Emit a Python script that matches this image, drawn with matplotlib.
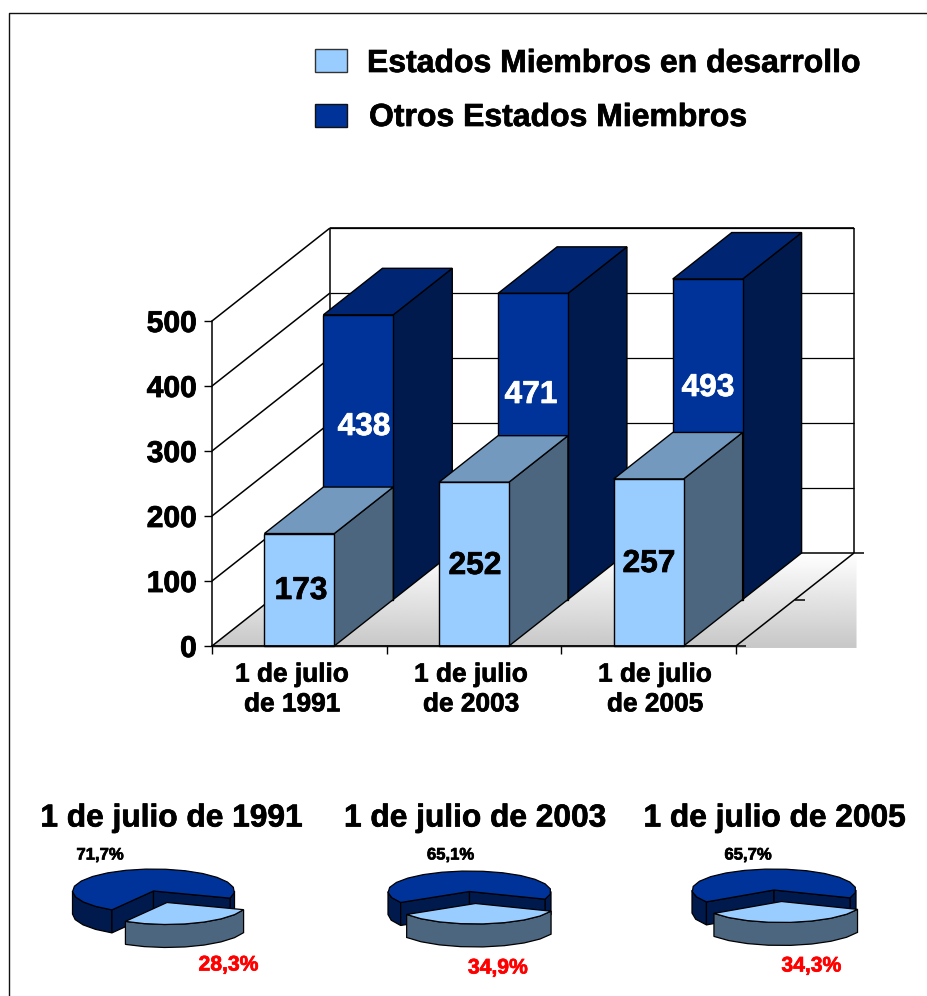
import numpy as np
import matplotlib
matplotlib.use('Agg')
import matplotlib.pyplot as plt
import matplotlib.patheffects as pe
from matplotlib.patches import Polygon, Rectangle

plt.rcParams['font.family'] = ['Liberation Sans', 'DejaVu Sans']
plt.rcParams['font.weight'] = 'bold'

# data
fechas = ['1 de julio\nde 1991', '1 de julio\nde 2003', '1 de julio\nde 2005']
fechas_pie = ['1 de julio de 1991', '1 de julio de 2003', '1 de julio de 2005']
en_desarrollo = [173, 252, 257]
otros = [438, 471, 493]
pct_desarrollo = [28.3, 34.9, 34.3]
pct_otros = [71.7, 65.1, 65.7]
ticks_y = [0, 100, 200, 300, 400, 500]

# colours
claro = '#99CCFF'
claro_lado = '#4D6680'
claro_top = '#7399BF'
oscuro = '#003399'
oscuro_lado = '#001A4D'
oscuro_top = '#002673'

W, H = 927, 996
fig = plt.figure(figsize=(W / 100, H / 100), dpi=100)

# chart axes: x in categories, y in values, box placed in pixels
x0, x1, y0, y1 = 212, 736, 646, 321
ax = fig.add_axes([x0 / W, 1 - y0 / H, (x1 - x0) / W, (y0 - y1) / H])
ax.set_xlim(0, 3)
ax.set_ylim(0, 500)
ax.patch.set_alpha(0)

# depth: d=1 is the back wall
DX = 118 / ((x1 - x0) / 3)
DY = 93 / ((y0 - y1) / 500)


def pr(x, v, d=0):
    return (x + d * DX, v + d * DY)


# floor, the gradient runs past the axes box on the right and below
grad = np.linspace(1, 0.78, 100).reshape(-1, 1)
fx = 3.69
img = ax.imshow(grad, extent=(0, fx, -3, DY), cmap='gray', vmin=0, vmax=1,
                aspect='auto', zorder=0)
floor = Polygon([pr(0, 0), pr(0, 0, 1), (fx, DY), (fx, -3), (0, -3)], closed=True,
                transform=ax.transData, fill=False, edgecolor='none')
ax.add_patch(floor)
floor.set_clip_on(False)
img.set_clip_box(fig.bbox)
img.set_clip_path(floor)
ax.set_xlim(0, 3)
ax.set_ylim(0, 500)


def line(p, q, lw=1.1, z=1):
    ax.plot([p[0], q[0]], [p[1], q[1]], color='black', lw=lw, zorder=z,
            clip_on=False, solid_capstyle='butt')


# walls and grid
for v in ticks_y[1:]:
    line(pr(0, v), pr(0, v, 1))
    line(pr(0, v, 1), pr(3, v, 1), lw=0.9)
line(pr(0, 0), pr(0, 0, 1))
line(pr(0, 0, 1), pr(0, 500, 1))
line(pr(3, 0, 1), pr(3, 500, 1))
line(pr(0, 0, 1), pr(3, 0, 1))
line(pr(0, 500, 1), pr(3, 500, 1), lw=1.2)
line(pr(3, 0), pr(3, 0, 1))
line(pr(3, 0, 1), pr(3.06, 0, 1))
line(pr(3, 0), pr(3.06, 0))
line(pr(3, 0, 0.5), pr(3.06, 0, 0.5))


def bar(i, v, d0, d1, front, side, top, z):
    a, b = i + 0.3, i + 0.7
    ax.add_patch(Polygon([pr(b, 0, d0), pr(b, 0, d1), pr(b, v, d1), pr(b, v, d0)],
                         facecolor=side, edgecolor='black', lw=1, zorder=z, clip_on=False))
    ax.add_patch(Polygon([pr(a, v, d0), pr(b, v, d0), pr(b, v, d1), pr(a, v, d1)],
                         facecolor=top, edgecolor='black', lw=1, zorder=z, clip_on=False))
    ax.add_patch(Polygon([pr(a, 0, d0), pr(b, 0, d0), pr(b, v, d0), pr(a, v, d0)],
                         facecolor=front, edgecolor='black', lw=1, zorder=z, clip_on=False))


for i in range(3):
    bar(i, otros[i], 0.5, 1, oscuro, oscuro_lado, oscuro_top, 3 + i * 0.1)
for i in range(3):
    bar(i, en_desarrollo[i], 0, 0.5, claro, claro_lado, claro_top, 5 + i * 0.1)

for s in ['top', 'right']:
    ax.spines[s].set_visible(False)
ax.spines['left'].set_zorder(2)
ax.spines['bottom'].set_zorder(6)
ax.spines['left'].set_linewidth(1.1)
ax.spines['bottom'].set_linewidth(1.3)
ax.set_xticks([0, 1, 2, 3])
ax.set_xticklabels([])
ax.set_yticks(ticks_y)
ax.set_yticklabels([str(t) for t in ticks_y], fontsize=21.6, fontweight='bold')
ax.tick_params(axis='both', length=6, width=1, pad=5)
for lab in ax.get_yticklabels():
    lab.set_path_effects([pe.withStroke(linewidth=0.6, foreground='black')])

# overlay in pixels, for the free text, legend and pies
ov = fig.add_axes([0, 0, 1, 1], zorder=10)
ov.set_xlim(0, W)
ov.set_ylim(H, 0)
ov.axis('off')


def txt(x, y, s, size, color='black', ha='center', **kw):
    t = ov.text(x, y, s, fontsize=size, color=color, ha=ha, va='center', **kw)
    t.set_path_effects([pe.withStroke(linewidth=0.5, foreground=color)])
    return t


# outer frame
ov.plot([9, 9, W], [H, 12.5, 12.5], color='#111111', lw=1)

# legend
ov.add_patch(Rectangle((315, 49), 32, 23, facecolor=claro, edgecolor='#333333', lw=1))
ov.add_patch(Rectangle((315, 104), 32, 23, facecolor=oscuro, edgecolor='#111111', lw=1))
txt(367, 64, 'Estados Miembros en desarrollo', 23, ha='left')
txt(369, 118, 'Otros Estados Miembros', 23, ha='left')

# bar labels
pos_claro = [(301, 591), (475, 566), (649, 564)]
pos_oscuro = [(364, 427), (531, 395), (708, 388)]
for v, p in zip(en_desarrollo, pos_claro):
    txt(p[0], p[1], str(v), 22.8)
for v, p in zip(otros, pos_oscuro):
    txt(p[0], p[1], str(v), 22.8, color='white')

# x labels
for t, x in zip(fechas, [292, 471, 655]):
    txt(x, 689.5, t, 18.9, linespacing=1.3)

# pies
pies = [
    dict(c=(153.5, 891), rx=81, ry=22, start=-19, off=(13.5, 11.5)),
    dict(c=(469.5, 891.5), rx=81.5, ry=20.5, start=-22, off=(6, 12)),
    dict(c=(774, 890), rx=82, ry=21, start=-22, off=(7.5, 11.5)),
]
DEPTH = 23


def rim(c, rx, ry, a0, a1):
    n = max(2, int(abs(a1 - a0) / 14) + 1)
    t = np.radians(np.linspace(a0, a1, n))
    return np.column_stack([c[0] + rx * np.cos(t), c[1] - ry * np.sin(t)])


def wall(pts, color, z):
    down = pts[::-1] + np.array([0, DEPTH])
    ov.add_patch(Polygon(np.vstack([pts, down]), facecolor=color, edgecolor='black', lw=0.9, zorder=z))


def pie(p, pct_claro):
    c, rx, ry, start = p['c'], p['rx'], p['ry'], p['start']
    left = start - pct_claro * 3.6
    cc = (c[0] + p['off'][0], c[1] + p['off'][1])
    # dark part: outer walls, cut walls, top
    wall(rim(c, rx, ry, 180, left + 360), oscuro_lado, 2)
    wall(rim(c, rx, ry, start, 0), oscuro_lado, 2)
    wall(np.array([c, rim(c, rx, ry, left, left)[0]]), oscuro_lado, 2.1)
    wall(np.array([c, rim(c, rx, ry, start, start)[0]]), oscuro_lado, 2.1)
    ov.add_patch(Polygon(np.vstack([[c], rim(c, rx, ry, start, left + 360)]),
                         facecolor=oscuro, edgecolor='black', lw=0.9, zorder=2.2))
    # light part, pulled out
    wall(rim(cc, rx, ry, left, start), claro_lado, 3)
    ov.add_patch(Polygon(np.vstack([[cc], rim(cc, rx, ry, left, start)]),
                         facecolor=claro, edgecolor='black', lw=0.9, zorder=3.1))


for p, v in zip(pies, pct_desarrollo):
    pie(p, v)

for t, x in zip(fechas_pie, [171.5, 475, 774.5]):
    txt(x, 818.5, t, 22.8)
for v, x in zip(pct_otros, [100, 450.5, 748]):
    txt(x, 855, ('%.1f%%' % v).replace('.', ','), 12)
for v, p in zip(pct_desarrollo, [(228.5, 965), (498, 968), (811.5, 966)]):
    txt(p[0], p[1], ('%.1f%%' % v).replace('.', ','), 15.2, color='#FF0000')

fig.savefig('out.png', dpi=100)
